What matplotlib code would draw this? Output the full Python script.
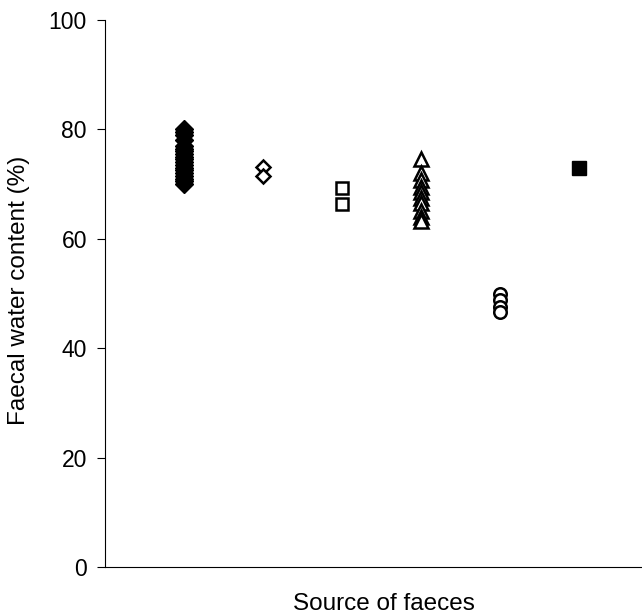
import matplotlib
matplotlib.use("Agg")
import matplotlib.pyplot as plt

plt.rcParams['font.family'] = ['Liberation Sans', 'DejaVu Sans']

# faecal water content (%) by source group
group1 = [70, 70.5, 71, 71.5, 72, 72.5, 73, 73.5, 74, 74.5, 75, 75.5, 76, 76.5, 77, 78, 79, 79.5, 80]
group2 = [73.1, 71.4]
group3 = [69.3, 66.4]
group4 = [74.5, 72.0, 70.8, 69.5, 68.5, 67.5, 66.5, 65.0, 64.0, 63.2]
group5 = [50.0, 48.8, 47.5, 46.6]
group6 = [73.0]

y_ticks = [0, 20, 40, 60, 80, 100]

fig = plt.figure(figsize=(6.42, 6.15), dpi=100)
ax = fig.add_axes([0.1636, 0.078, 0.8364, 0.8895])

ax.plot([1] * len(group1), group1, 'D', color='black', markersize=9, linestyle='none')
ax.plot([2] * len(group2), group2, 'D', markerfacecolor='white', markeredgecolor='black',
        markeredgewidth=1.8, markersize=7, linestyle='none')
ax.plot([3] * len(group3), group3, 's', markerfacecolor='white', markeredgecolor='black',
        markeredgewidth=1.8, markersize=9, linestyle='none')
ax.plot([4] * len(group4), group4, '^', markerfacecolor='white', markeredgecolor='black',
        markeredgewidth=1.8, markersize=10, linestyle='none')
ax.plot([5] * len(group5), group5, 'o', markerfacecolor='white', markeredgecolor='black',
        markeredgewidth=1.8, markersize=9, linestyle='none')
ax.plot([6] * len(group6), group6, 's', color='black', markersize=10, linestyle='none')

ax.set_xlim(0, 6.8)
ax.set_ylim(0, 100)
ax.set_yticks(y_ticks)
ax.set_xticks([])
ax.tick_params(axis='y', direction='out', length=6, width=0.8, labelsize=16.5, pad=7)
for s in ['top', 'right']:
    ax.spines[s].set_visible(False)
ax.spines['left'].set_linewidth(0.8)
ax.spines['bottom'].set_linewidth(0.8)
ax.set_ylabel('Faecal water content (%)', fontsize=17.5)
ax.yaxis.set_label_coords(-0.14, 0.505)
ax.set_xlabel('Source of faeces', fontsize=17.5)
ax.xaxis.set_label_coords(0.52, -0.047)

fig.savefig('out.png', dpi=100)
